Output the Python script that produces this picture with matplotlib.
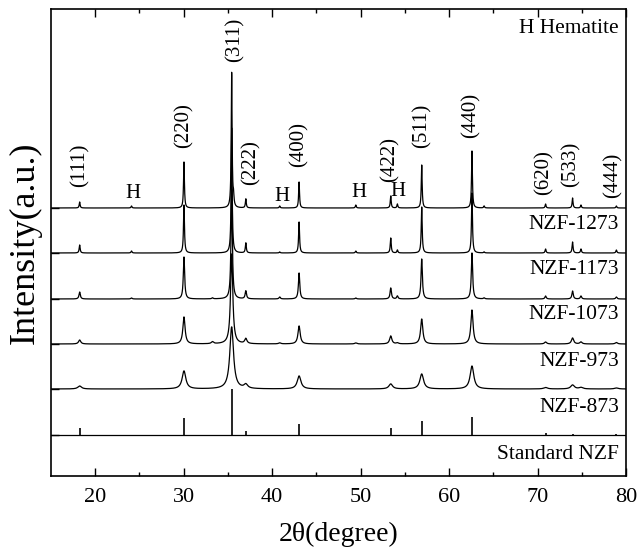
import numpy as np
import matplotlib
matplotlib.use("Agg")
import matplotlib.pyplot as plt

plt.rcParams['font.family'] = ['Liberation Serif', 'DejaVu Serif']

# NZF reflections (2theta, degree) and their hkl labels
hkl = ['(111)', '(220)', '(311)', '(222)', '(400)', '(422)', '(511)', '(440)', '(620)', '(533)', '(444)']
pos = [18.24, 30.03, 35.42, 37.02, 43.04, 53.4, 56.9, 62.58, 70.9, 73.95, 78.9]

# peak heights for each sample (a.u.), same order as pos
h_1273 = [6, 46, 135, 9, 26, 12, 43, 57, 4, 10, 2]
h_1173 = [8, 48, 125, 10, 31, 15, 46, 60, 4, 11, 3]
h_1073 = [7, 42, 110, 8, 26, 11, 40, 46, 3, 8, 2]
h_973 = [4, 27, 90, 5, 18, 8, 25, 34, 2, 6, 1.5]
h_873 = [3, 18, 62, 4, 13, 5, 15, 23, 1.5, 4, 1]
std_h = [7, 17, 46, 4, 11, 7, 14, 18, 2, 1, 0.5]

# minor peaks: hematite and weak spinel lines
minor_pos = [24.1, 33.25, 35.63, 40.85, 49.45, 54.15, 63.95, 74.9]
m_1273 = [2, 0, 9, 2, 3, 4, 2, 3]
m_1173 = [2, 0, 0, 1, 2, 3, 1, 4]
m_1073 = [1, 1, 0, 2, 1, 3, 1, 3]
m_973 = [0, 2, 0, 1, 1, 1, 0, 2]
m_873 = [0, 0, 0, 0, 0, 0, 0, 1.5]

samples = ['NZF-1273', 'NZF-1173', 'NZF-1073', 'NZF-973', 'NZF-873']
heights = [h_1273, h_1173, h_1073, h_973, h_873]
minors = [m_1273, m_1173, m_1073, m_973, m_873]
fwhm = [0.12, 0.13, 0.18, 0.3, 0.5]
offsets = [268, 223, 177, 132, 87]
std_base = 41

hem_x = [24.3, 41.1, 49.8, 54.2]
hem_y = [282, 279, 283, 284]
lab_x = [18.3, 30.0, 35.85, 37.55, 43.0, 53.3, 56.9, 62.45, 70.7, 73.8, 78.5]
lab_y = [289, 328, 414, 291, 309, 294, 328, 338, 281, 289, 278]
name_y = [251, 206, 161, 114, 68]


def profile(x, centers, amps, w):
    y = np.zeros_like(x)
    for c, a in zip(centers, amps):
        y += a / (1 + ((x - c) / (w / 2)) ** 2)
    return y


x = np.linspace(15, 80, 6501)

fig = plt.figure(figsize=(6.39, 5.54), dpi=100)
ax = fig.add_axes([0.0798, 0.1408, 0.9, 0.843])

for name, hh, mm, w, off, ny in zip(samples, heights, minors, fwhm, offsets, name_y):
    y = profile(x, pos, hh, w) + profile(x, minor_pos, mm, w)
    ax.plot(x, y + off, color='black', lw=0.9)
    ax.text(79.2, ny, name, ha='right', va='center', fontsize=15.5)

ax.axhline(std_base, color='black', lw=0.9)
ax.vlines(pos, std_base, np.array(std_h) + std_base, color='black', lw=1.2)
ax.text(79.2, 21, 'Standard NZF', ha='right', va='center', fontsize=15.5)

for t, lx, ly in zip(hkl, lab_x, lab_y):
    ax.text(lx, ly, t, rotation=90, ha='center', va='bottom', fontsize=15)
for hx, hy in zip(hem_x, hem_y):
    ax.text(hx, hy, 'H', ha='center', va='center', fontsize=15)
ax.text(79.2, 447, 'H Hematite', ha='right', va='center', fontsize=15.5)

ax.set_xlim(15, 80)
ax.set_ylim(0, 467)
ax.set_xticks(np.arange(20, 81, 10))
ax.set_xticks(np.arange(25, 80, 10), minor=True)
ax.set_yticks([std_base] + offsets[::-1])
ax.set_yticklabels([])
ax.tick_params(axis='x', which='both', direction='in', top=True, labelsize=16, pad=9)
ax.tick_params(axis='x', which='major', length=6, width=1)
ax.tick_params(axis='x', which='minor', length=3, width=1)
ax.tick_params(axis='y', direction='in', length=6, width=1)
for s in ax.spines.values():
    s.set_linewidth(1.2)

ax.set_xlabel('2θ(degree)', fontsize=20, labelpad=10)
ax.set_ylabel('Intensity(a.u.)', fontsize=26, labelpad=3)

fig.savefig('out.png', dpi=100)
